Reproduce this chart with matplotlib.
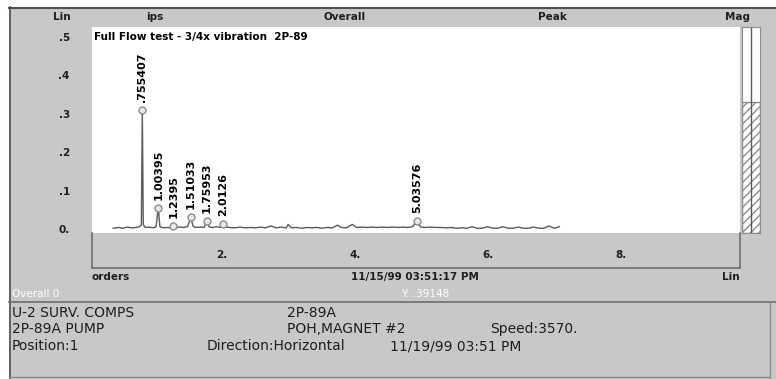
import matplotlib
matplotlib.use('Agg')
from matplotlib import pyplot as plt
from matplotlib.patches import Rectangle
from matplotlib.transforms import blended_transform_factory

W, H = 776, 379

# spectrum (orders, ips)
spec_orders = [0.30, 0.38, 0.45, 0.52, 0.60, 0.66, 0.71, 0.74, 0.755, 0.77, 0.80, 0.86,
               0.92, 0.97, 1.004, 1.03, 1.08, 1.14, 1.20, 1.24, 1.28, 1.34, 1.40, 1.46,
               1.51, 1.55, 1.61, 1.67, 1.72, 1.76, 1.80, 1.86, 1.92, 1.97, 2.013, 2.05,
               2.12, 2.20, 2.28, 2.36, 2.44, 2.52, 2.60, 2.68, 2.76, 2.84, 2.92, 3.00,
               3.03, 3.08, 3.16, 3.24, 3.32, 3.40, 3.48, 3.56, 3.64, 3.72, 3.80, 3.86,
               3.94, 4.03, 4.10, 4.18, 4.26, 4.34, 4.42, 4.50, 4.58, 4.66, 4.74, 4.82,
               4.90, 4.97, 5.036, 5.10, 5.18, 5.26, 5.34, 5.42, 5.50, 5.58, 5.66, 5.74,
               5.82, 5.90, 5.98, 6.06, 6.14, 6.22, 6.30, 6.38, 6.46, 6.54, 6.62, 6.70,
               6.78, 6.86, 6.94, 7.02, 7.10, 7.18, 7.26]
spec_amps = [0.002, 0.004, 0.002, 0.005, 0.003, 0.004, 0.006, 0.010, 0.310, 0.012, 0.004, 0.005,
             0.003, 0.006, 0.055, 0.006, 0.003, 0.004, 0.003, 0.008, 0.004, 0.005, 0.004, 0.006,
             0.030, 0.006, 0.004, 0.005, 0.004, 0.020, 0.005, 0.004, 0.006, 0.004, 0.012, 0.005,
             0.004, 0.003, 0.005, 0.003, 0.004, 0.003, 0.005, 0.003, 0.008, 0.003, 0.005, 0.003,
             0.012, 0.003, 0.004, 0.002, 0.004, 0.003, 0.004, 0.002, 0.004, 0.003, 0.010, 0.004,
             0.003, 0.012, 0.004, 0.005, 0.004, 0.005, 0.004, 0.005, 0.004, 0.005, 0.004, 0.005,
             0.004, 0.006, 0.020, 0.005, 0.004, 0.005, 0.004, 0.004, 0.003, 0.004, 0.002, 0.003,
             0.002, 0.006, 0.002, 0.002, 0.006, 0.002, 0.002, 0.006, 0.002, 0.002, 0.005, 0.002,
             0.002, 0.005, 0.002, 0.002, 0.008, 0.002, 0.006]

# marked peaks
peak_orders = [0.755407, 1.00395, 1.2395, 1.51033, 1.75953, 2.0126, 5.03576]
peak_amps = [0.310, 0.055, 0.008, 0.030, 0.020, 0.012, 0.020]
peak_labels = ['.755407', '1.00395', '1.2395', '1.51033', '1.75953', '2.0126', '5.03576']

y_ticks = [0, 0.1, 0.2, 0.3, 0.4, 0.5]
y_tick_labels = ['0.', '.1', '.2', '.3', '.4', '.5']
x_ticks = [2, 4, 6, 8]
x_tick_labels = ['2.', '4.', '6.', '8.']

mag_value = 0.33

title = 'Full Flow test - 3/4x vibration  2P-89'
header_labels = ['Lin', 'ips', 'Overall', 'Peak', 'Mag']
header_x = [62, 155, 345, 552, 738]
info_rows = [
    [(12, 'U-2 SURV. COMPS'), (287, '2P-89A')],
    [(12, '2P-89A PUMP'), (287, 'POH,MAGNET #2'), (490, 'Speed:3570.')],
    [(12, 'Position:1'), (207, 'Direction:Horizontal'), (390, '11/19/99 03:51 PM')],
]
info_y = [313, 329, 346]

GRAY = '#c8c8c8'
DARK = '#6e6e6e'
LINE = '#5a5a5a'
TXT = '#1e1e1e'
plt.rcParams['font.family'] = ['DejaVu Sans']

YLIM = (-0.0104, 0.526)


def box(x0, y0, x1, y1):
    # pixel box -> figure fraction
    return [x0 / W, 1 - y1 / H, (x1 - x0) / W, (y1 - y0) / H]


fig = plt.figure(figsize=(W / 100, H / 100), dpi=100, facecolor='white')

# background / frames in pixel coords
bg = fig.add_axes([0, 0, 1, 1])
bg.set_xlim(0, W)
bg.set_ylim(H, 0)
bg.axis('off')
bg.add_patch(Rectangle((9, 7), W - 9, H - 7, facecolor=GRAY, edgecolor='none'))
bg.plot([9, W], [7.5, 7.5], color='#505050', lw=1.5)
bg.plot([9.5, 9.5], [7, H], color='#505050', lw=1.2)
bg.plot([9, W], [302, 302], color=DARK, lw=1.2)
bg.plot([9, 770, 770], [377, 377, 302], color='#8a8a8a', lw=1)

for lx, lab in zip(header_x, header_labels):
    bg.text(lx, 17, lab, ha='center', va='center', fontsize=7.5, fontweight='bold', color=TXT)

bg.text(92, 277, 'orders', ha='left', va='center', fontsize=7.5, fontweight='bold', color=TXT)
bg.text(415, 277, '11/15/99 03:51:17 PM', ha='center', va='center', fontsize=7.5,
        fontweight='bold', color=TXT)
bg.text(740, 277, 'Lin', ha='right', va='center', fontsize=7.5, fontweight='bold', color=TXT)
bg.text(12, 294, 'Overall 0', ha='left', va='center', fontsize=7.5, color='white')
bg.text(425, 294, 'Y: .39148', ha='center', va='center', fontsize=7.5, color='white')

for row, ry in zip(info_rows, info_y):
    for rx, txt in row:
        bg.text(rx, ry, txt, ha='left', va='center', fontsize=10, color=TXT)

# main spectrum axes
ax = fig.add_axes(box(92, 27, 740, 233))
ax.set_facecolor('white')
ax.set_xlim(-0.03, 10.08)
ax.set_ylim(*YLIM)
ax.plot(spec_orders, spec_amps, color=LINE, lw=1)
ax.plot(peak_orders, peak_amps, 'o', ms=5, mfc='#e8e8e8', mec='#8c8c8c', mew=1)
for po, pa, pl in zip(peak_orders, peak_amps, peak_labels):
    ax.annotate(pl, (po, pa), xytext=(0, 6), textcoords='offset points',
                rotation=90, ha='center', va='bottom', fontsize=8, fontweight='bold')
ax.text(0.003, 0.5, title, transform=blended_transform_factory(ax.transAxes, ax.transData),
        ha='left', va='center', fontsize=7.5, fontweight='bold')
ax.set_xticks([])
ax.set_yticks(y_ticks)
ax.set_yticklabels(y_tick_labels, fontsize=7.5, fontweight='bold', color=TXT)
ax.tick_params(axis='y', length=0, pad=16)
for s in ax.spines.values():
    s.set_visible(False)

# order scale band under the spectrum
band = fig.add_axes(box(92, 233, 740, 268))
band.set_facecolor(GRAY)
band.set_xlim(0.045, 9.79)
band.set_ylim(0, 1)
band.set_xticks([])
band.set_yticks([])
band.spines['top'].set_visible(False)
for k in ['left', 'bottom', 'right']:
    band.spines[k].set_color(DARK)
    band.spines[k].set_linewidth(1.2)
tr = blended_transform_factory(band.transData, band.transAxes)
for xt, xl in zip(x_ticks, x_tick_labels):
    band.text(xt, 0.38, xl, transform=tr, ha='center', va='center', fontsize=7.5,
              fontweight='bold', color=TXT)

# magnitude bar
mag = fig.add_axes(box(742, 27, 760, 233))
mag.set_facecolor('white')
mag.set_xlim(0, 1)
mag.set_ylim(*YLIM)
mag.bar([0.5], [mag_value - YLIM[0]], bottom=YLIM[0], width=1.0, facecolor='white',
        edgecolor='#8c8c8c', hatch='////', lw=1)
mag.axvline(0.5, color=LINE, lw=1)
mag.set_xticks([])
mag.set_yticks([])
for s in mag.spines.values():
    s.set_color('#8c8c8c')

fig.savefig('out.png', dpi=100, facecolor='white')
